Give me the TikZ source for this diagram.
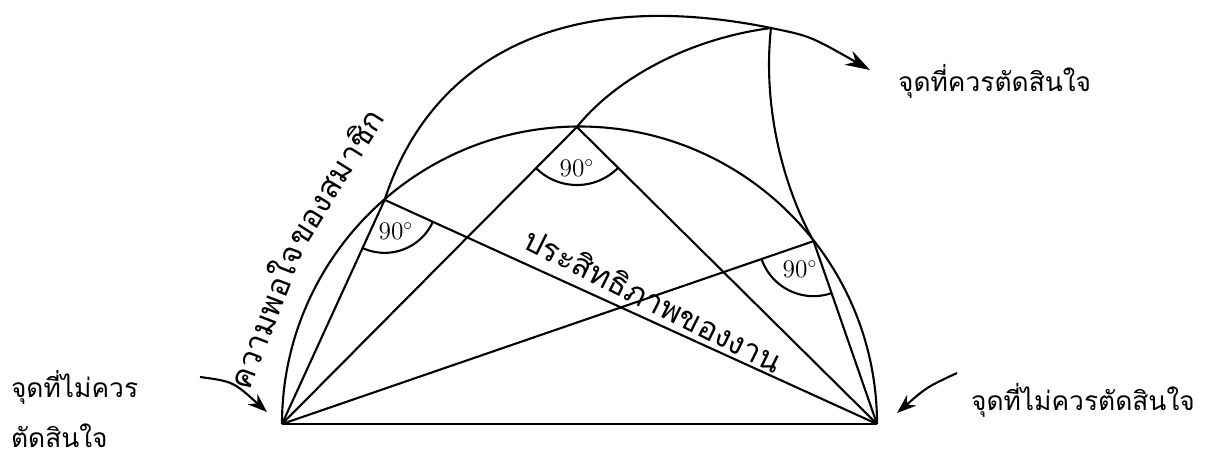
\documentclass[tikz,border=0pt]{standalone}
\usepackage{fontspec}
\newfontfamily\thaifont[Script=Thai]{Loma}
\usetikzlibrary{calc,arrows.meta}

\begin{document}
\begin{tikzpicture}[x=0.02cm, y=0.02cm, line width=1.2pt,
    thaitext/.style={font=\thaifont\fontsize{15}{18}\selectfont, inner sep=0pt},
    pathtext/.style={font=\thaifont\fontsize{18}{20}\selectfont, inner sep=0pt, anchor=base},
    deglbl/.style={font=\fontsize{14}{16}\selectfont, inner sep=0pt}]
    \useasboundingbox (0,0) rectangle (1213,457);

    % จุดหลัก
    \coordinate (O) at (579.5,33);
    \coordinate (A) at (282,33);
    \coordinate (B) at (877,33);
    \coordinate (P1) at ($(O)+(131:297)$);
    \coordinate (P2) at ($(O)+(90.5:297)$);
    \coordinate (P3) at ($(O)+(38:297)$);
    \coordinate (Q) at (771,429);
    \coordinate (T) at (870,387);

    % ฐานและครึ่งวงกลม
    \draw (A) -- (B);
    \draw (B) arc (0:180:297.5);

    % สามเหลี่ยมมุมฉาก
    \foreach \p in {P1,P2,P3}
        \draw (A) -- (\p) -- (B);

    % เส้นโค้งด้านบน
    \draw (P1) .. controls (430,397) and (560,472) .. (Q);
    \draw[-{Stealth[length=14pt, width=9pt]}] (Q) .. controls (810,421) .. (T);
    \draw (P2) .. controls (610,372) and (680,417) .. (Q);
    \draw (Q) .. controls (762,347) and (785,267) .. (P3);

    % มุม 90 องศา
    \draw ([shift={(245.4:53)}]P1) arc (245.4:335.5:53);
    \node[deglbl] (d1) at ([shift={(290:33)}]P1) {$90^\circ$};
    \draw ([shift={(225.2:58)}]P2) arc (225.2:315.3:58);
    \node[deglbl] (d2) at ([shift={(270:41)}]P2) {$90^\circ$};
    \draw ([shift={(199:55)}]P3) arc (199:289.2:55);
    \node[deglbl] (d3) at ([shift={(244:31)}]P3) {$90^\circ$};

    % ข้อความบนเส้น
    \node[pathtext, rotate=69] (s1) at (277,136) {ความพอใจ};
    \node[pathtext, rotate=58] (s2) at (345,273) {ของสมาชิก};
    \node[pathtext, rotate=-26.5] (e1) at (648,146) {ประสิทธิภาพของงาน};

    % ป้ายและลูกศร
    \node[thaitext, anchor=base west] (n1) at (10,60) {จุดที่ไม่ควร};
    \node[thaitext, anchor=base west] (n2) at (10,10) {ตัดสินใจ};
    \node[thaitext, anchor=base west] (n3) at (970,47) {จุดที่ไม่ควรตัดสินใจ};
    \node[thaitext, anchor=base west] (n4) at (897,365) {จุดที่ควรตัดสินใจ};

    \coordinate (la) at (200,80);
    \coordinate (ra) at (957,84);
    \draw[-{Stealth[length=11pt, width=8pt]}] (la) .. controls (233,75.5) .. (267,45);
    \draw[-{Stealth[length=11pt, width=8pt]}] (ra) .. controls (927,70) .. (897,44);
\end{tikzpicture}
\end{document}
